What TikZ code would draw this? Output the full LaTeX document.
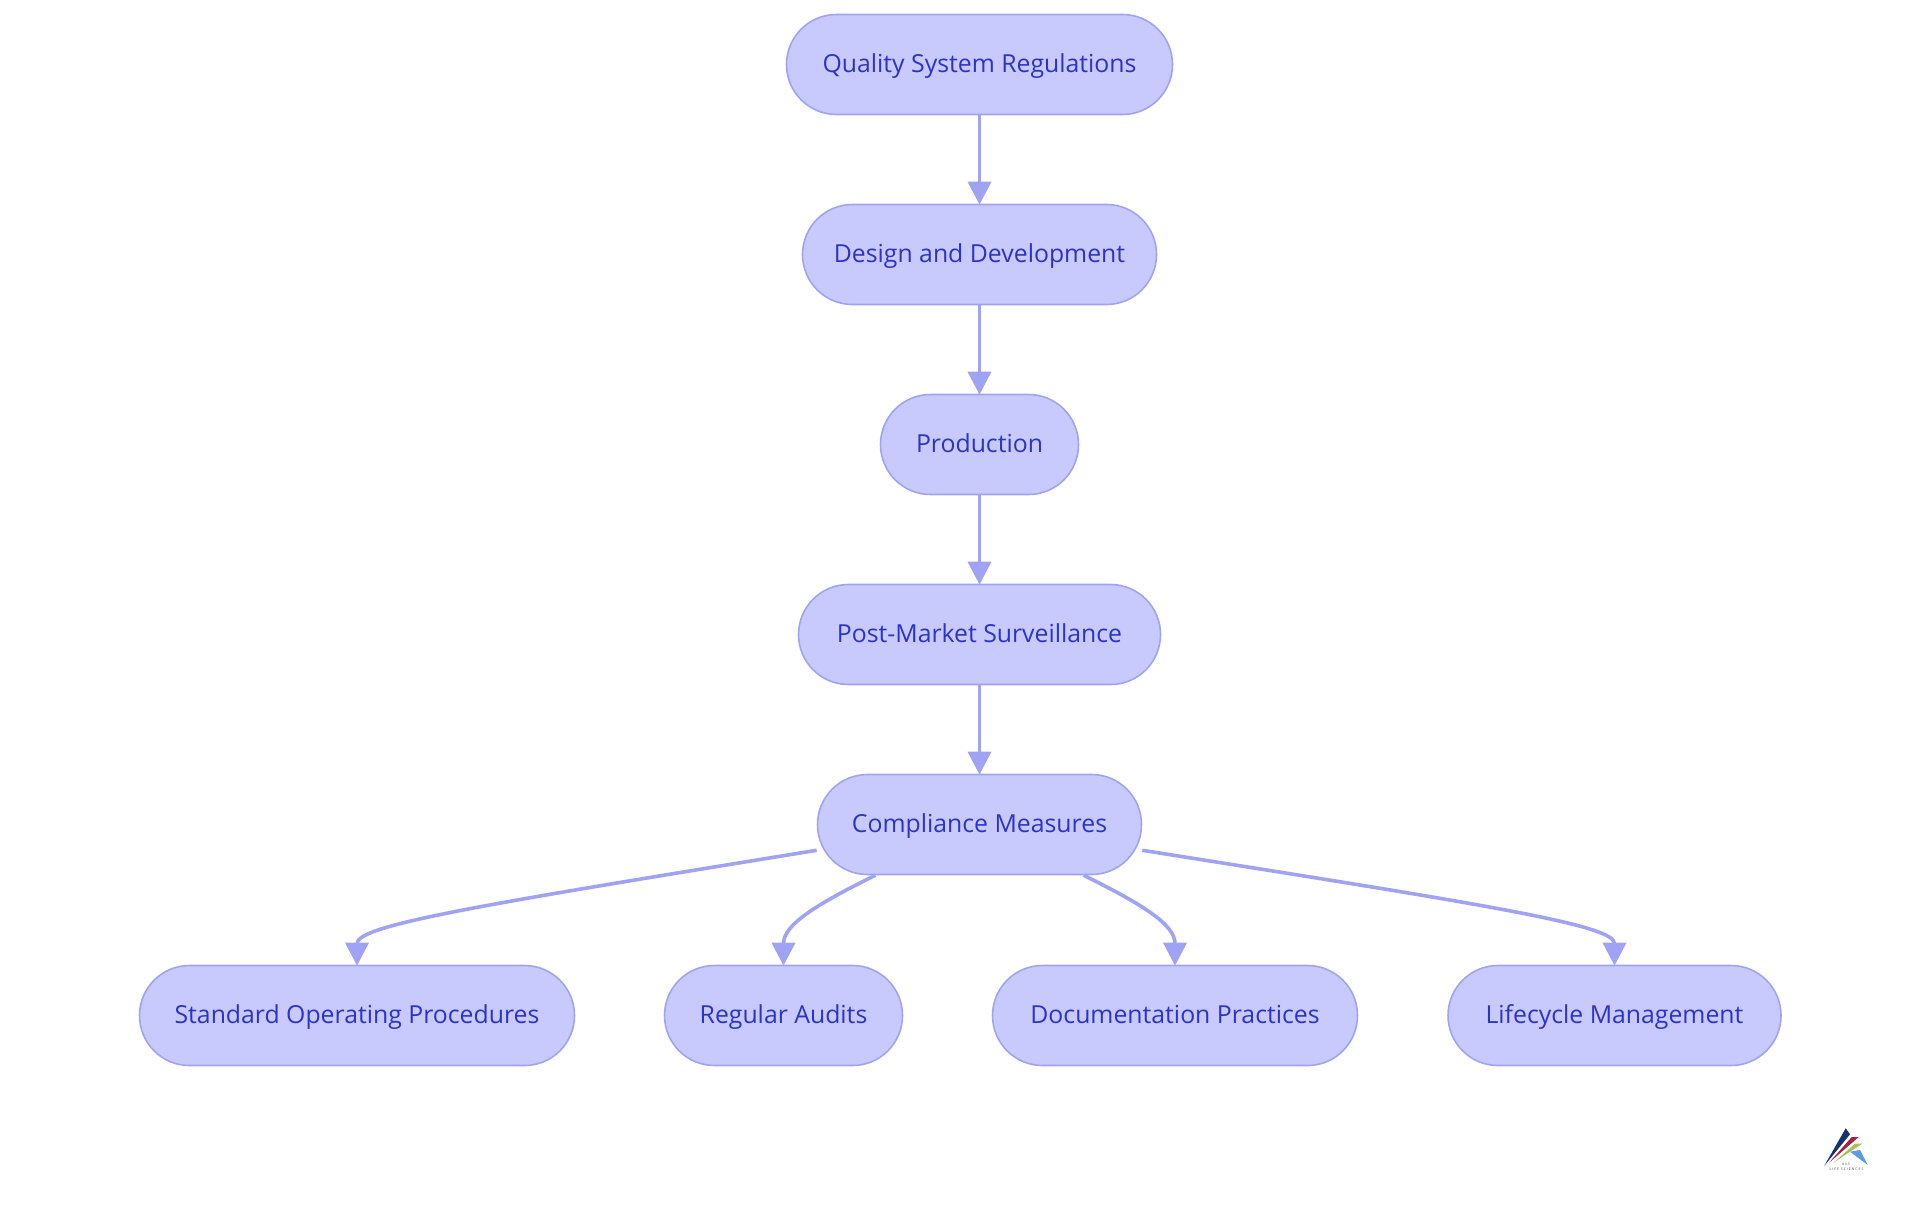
\documentclass[tikz,border=0pt]{standalone}
\usepackage{fontspec}
\setmainfont{Open Sans}
\usetikzlibrary{arrows.meta}
\definecolor{pillfill}{HTML}{C8CAFD}
\definecolor{pillline}{HTML}{A0A3F3}
\definecolor{pilltext}{HTML}{2C33C9}
\definecolor{logonavy}{HTML}{12336B}
\definecolor{logored}{HTML}{A8203F}
\definecolor{logogreen}{HTML}{A9BF5C}
\definecolor{logoblue}{HTML}{5C9CDC}
\tikzset{
  pill/.style={draw=pillline,fill=pillfill,text=pilltext,line width=0.8pt,rounded corners=25pt,
    minimum height=50pt,inner sep=0pt,text height=10.4pt,text depth=2.8pt,font=\fontsize{12.4}{14}\selectfont},
  link/.style={draw=pillline,line width=1.8pt,shorten >=-0.5pt,-{Triangle[length=11.5pt,width=11.5pt]}},
  logotext/.style={text=black!75,inner sep=0pt,font=\fontsize{1.7}{2}\selectfont\addfontfeature{LetterSpace=30}}
}
\begin{document}
\begin{tikzpicture}[x=0.5pt,y=-0.5pt]
      \useasboundingbox (0,0) rectangle (1920,1215);
      \draw
        (979.5,64.5) node[pill,minimum width=193pt] (quality){Quality System Regulations}
        (979.5,254.5) node[pill,minimum width=177pt] (design){Design and Development}
        (979.5,444.5) node[pill,minimum width=99pt] (production){Production}
        (979.5,634.5) node[pill,minimum width=181pt] (surveillance){Post-Market Surveillance}
        (979.5,824.5) node[pill,minimum width=162pt] (compliance){Compliance Measures}
        (357,1015.5) node[pill,minimum width=217.5pt] (procedures){Standard Operating Procedures}
        (783.5,1015.5) node[pill,minimum width=119pt] (audits){Regular Audits}
        (1175,1015.5) node[pill,minimum width=182.5pt] (documentation){Documentation Practices}
        (1614.5,1015.5) node[pill,minimum width=166.5pt] (lifecycle){Lifecycle Management};
      \begin{scope}[link]
        \draw (quality) to (design);
        \draw (design) to (production);
        \draw (production) to (surveillance);
        \draw (surveillance) to (compliance);
        \draw (compliance.189.4) .. controls (480,905) and (357,925) .. (procedures);
        \draw (compliance.206.7) .. controls (815,905) and (783.5,925) .. (audits);
        \draw (compliance.-26.7) .. controls (1144,905) and (1175,925) .. (documentation);
        \draw (compliance.-9.4) .. controls (1488,905) and (1614.5,925) .. (lifecycle);
      \end{scope}
      % logo
      \fill[logonavy] (1824.3,1165.7) -- (1845.7,1128.3) -- (1850,1134.3) -- cycle;
      \fill[logored] (1829,1162.7) -- (1851.7,1137) -- (1858.7,1137) -- cycle;
      \fill[logogreen] (1833.3,1162.7) -- (1855,1143.7) -- (1862.3,1143.7) -- cycle;
      \fill[logoblue] (1850,1151.7) -- (1860,1150) -- (1867.7,1165) -- cycle;
      \node[logotext] (brand) at (1846,1164.5) {AVS};
      \node[logotext] (sciences) at (1846.5,1169) {LIFE SCIENCES};
    \end{tikzpicture}
\end{document}
